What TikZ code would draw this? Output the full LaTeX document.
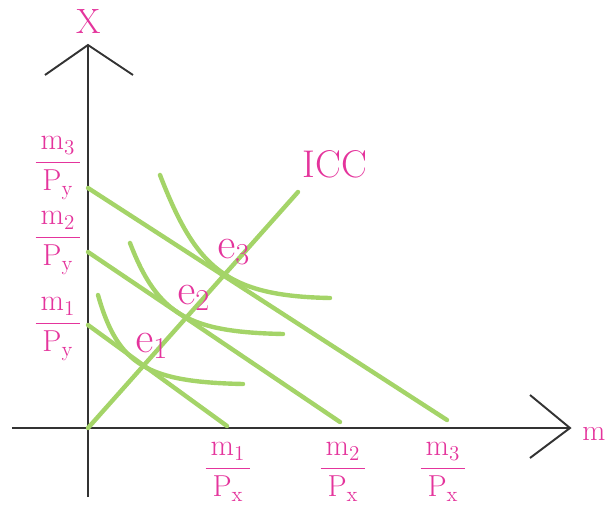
\documentclass[tikz,border=0pt]{standalone}
\usepackage{amsmath}
\definecolor{icpink}{RGB}{228,52,156}
\definecolor{icgreen}{RGB}{164,212,104}
\newcommand{\budgetfrac}[2]{$\dfrac{\,\mathrm{m}_{#1}\,}{\,\mathrm{P}_{\mathrm{#2}}\,}$}
\begin{document}
\begin{tikzpicture}[x=0.02cm,y=0.02cm,
  axis/.style={draw=black!80,line width=1.1pt},
  curve/.style={draw=icgreen,line width=2.5pt,line cap=round},
  lbl/.style={text=icpink,font=\fontsize{17}{19}\selectfont,inner sep=0pt},
  biglbl/.style={text=icpink,font=\fontsize{22}{25}\selectfont,inner sep=0pt}]
  \useasboundingbox (-88,-76) rectangle (517,428);

  % axes
  \coordinate (O) at (0,0);
  \coordinate (xtip) at (482,0);
  \coordinate (ytip) at (0,383);
  \draw[axis] (-76,0) -- (xtip);
  \draw[axis] (0,-69) -- (ytip);
  \draw[axis] (442,33) -- (xtip) -- (442,-30);
  \draw[axis] (-43,353) -- (ytip) -- (45,353);
  \node[lbl,font=\fontsize{20}{22}\selectfont] (xlab) at (1,406) {X};
  \node[lbl] (mlab) at (506,-6) {m};

  % budget lines
  \foreach \i/\a/\bx/\by in {1/103/139/2,2/176/252/6,3/240/359/8}
  \draw[curve] (0,\a) coordinate (b\i) -- (\bx,\by) coordinate (c\i);

  % intercept labels
  \foreach \i/\y in {1/105,2/191,3/266}
  \node[lbl,anchor=base] (py\i) at (-30,\y-8) {\budgetfrac{\i}{y}};
  \foreach \i/\x in {1/140,2/255,3/355}
  \node[lbl,anchor=base] (px\i) at (\x,-48) {\budgetfrac{\i}{x}};

  % income consumption curve
  \draw[curve] (O) -- (210,236) coordinate (iccend);
  \node[biglbl] (icc) at (247,264) {ICC};

  % indifference curves
  \draw[curve] (10,133) .. controls (30,62) and (60,46) .. (155,44);
  \draw[curve] (42,185) .. controls (70,112) and (102,96) .. (195,94);
  \draw[curve] (72,253) .. controls (108,160) and (138,132) .. (242,130);

  % equilibrium points
  \node[biglbl,font=\fontsize{24}{27}\selectfont] (e1) at (64,82) {$\mathrm{e}_1$};
  \node[biglbl,font=\fontsize{24}{27}\selectfont] (e2) at (106,130) {$\mathrm{e}_2$};
  \node[biglbl,font=\fontsize{24}{27}\selectfont] (e3) at (146,176) {$\mathrm{e}_3$};
\end{tikzpicture}
\end{document}
